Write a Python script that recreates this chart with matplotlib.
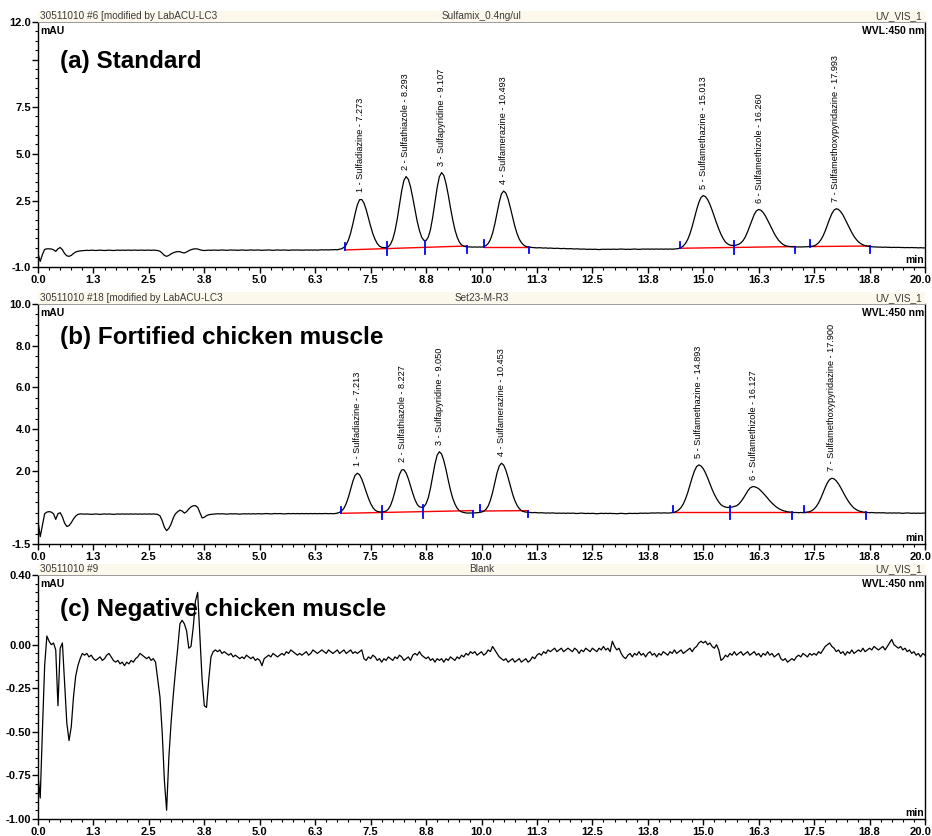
import numpy as np
import matplotlib
matplotlib.use("Agg")
import matplotlib.pyplot as plt
import matplotlib.transforms as mtransforms
from matplotlib.patches import Rectangle
from matplotlib.ticker import MultipleLocator

plt.rcParams['font.family'] = ['Liberation Sans', 'DejaVu Sans']

STEP = 0.05  # trace sampling interval, min

x_ticks = [0.0, 1.25, 2.5, 3.75, 5.0, 6.25, 7.5, 8.75, 10.0, 11.25, 12.5,
           13.75, 15.0, 16.25, 17.5, 18.75, 20.0]
x_tick_labels = ['0.0', '1.3', '2.5', '3.8', '5.0', '6.3', '7.5', '8.8', '10.0',
                 '11.3', '12.5', '13.8', '15.0', '16.3', '17.5', '18.8', '20.0']

compounds = ['Sulfadiazine', 'Sulfathiazole', 'Sulfapyridine', 'Sulfamerazine',
             'Sulfamethazine', 'Sulfamethizole', 'Sulfamethoxypyridazine']

# ---------------- (a) Standard ----------------
a_header = ['30511010 #6 [modified by LabACU-LC3', 'Sulfamix_0.4ng/ul', 'UV_VIS_1']
a_rt = [7.273, 8.293, 9.107, 10.493, 15.013, 16.260, 17.993]
a_top = [2.60, 3.79, 4.00, 3.02, 2.78, 2.04, 2.08]
a_yticks = [12.0, 10.0, 7.5, 5.0, 2.5, -1.0]
a_ytick_labels = ['12.0', '', '7.5', '5.0', '2.5', '-1.0']
a_trace = [
    -0.30, -0.72, -0.35, -0.08, -0.05, -0.05, -0.06, -0.10, -0.19, -0.05, 0.02, -0.10, -0.30, -0.42, -0.45, -0.40, -0.30, -0.22, -0.18, -0.16,  # 0
    -0.15, -0.14, -0.13, -0.14, -0.12, -0.13, -0.14, -0.13, -0.12, -0.13, -0.14, -0.13, -0.12, -0.13, -0.14, -0.13, -0.12, -0.13, -0.12, -0.13,  # 1
    -0.12, -0.12, -0.13, -0.12, -0.12, -0.13, -0.12, -0.12, -0.13, -0.12, -0.12, -0.13, -0.12, -0.13, -0.14, -0.18, -0.28, -0.40, -0.45, -0.40,  # 2
    -0.32, -0.26, -0.22, -0.20, -0.20, -0.25, -0.27, -0.22, -0.15, -0.10, -0.06, -0.05, -0.06, -0.10, -0.13, -0.14, -0.13, -0.12, -0.13, -0.12,  # 3
    -0.12, -0.13, -0.12, -0.11, -0.12, -0.13, -0.12, -0.11, -0.12, -0.12, -0.13, -0.12, -0.11, -0.12, -0.13, -0.12, -0.11, -0.12, -0.12, -0.11,  # 4
    -0.12, -0.13, -0.12, -0.12, -0.11, -0.12, -0.13, -0.12, -0.11, -0.12, -0.12, -0.11, -0.12, -0.13, -0.12, -0.11, -0.12, -0.11, -0.12, -0.12,  # 5
    -0.12, -0.11, -0.12, -0.11, -0.12, -0.11, -0.12, -0.11, -0.10, -0.11, -0.10, -0.11, -0.10, -0.10, -0.09, -0.10, -0.07, -0.04, 0.03, 0.17,  # 6
    0.42, 0.79, 1.28, 1.81, 2.28, 2.56, 2.57, 2.38, 2.03, 1.59, 1.15, 0.75, 0.45, 0.23, 0.09, 0.03, 0.01, 0.02, 0.06, 0.20,  # 7
    0.47, 0.91, 1.53, 2.28, 3.03, 3.58, 3.79, 3.64, 3.24, 2.66, 2.02, 1.41, 0.93, 0.57, 0.40, 0.39, 0.57, 0.98, 1.63, 2.42,  # 8
    3.20, 3.78, 4.00, 3.85, 3.42, 2.82, 2.14, 1.51, 0.97, 0.58, 0.31, 0.16, 0.09, 0.06, 0.05, 0.05, 0.04, 0.05, 0.04, 0.05,  # 9
    0.04, 0.06, 0.12, 0.23, 0.44, 0.78, 1.26, 1.85, 2.43, 2.87, 3.02, 2.91, 2.59, 2.14, 1.64, 1.16, 0.77, 0.47, 0.28, 0.15,  # 10
    0.08, 0.05, 0.03, 0.02, 0.01, 0.00, 0.01, 0.00, -0.01, 0.00, -0.02, -0.01, -0.02, -0.03, -0.02, -0.03, -0.04, -0.03, -0.04, -0.05,  # 11
    -0.04, -0.05, -0.06, -0.05, -0.06, -0.07, -0.06, -0.07, -0.08, -0.07, -0.08, -0.07, -0.08, -0.09, -0.08, -0.07, -0.08, -0.07, -0.08, -0.07,  # 12
    -0.07, -0.08, -0.07, -0.06, -0.07, -0.08, -0.07, -0.08, -0.07, -0.06, -0.07, -0.08, -0.07, -0.06, -0.07, -0.06, -0.07, -0.06, -0.07, -0.06,  # 13
    -0.07, -0.06, -0.07, -0.06, -0.07, -0.06, -0.07, -0.06, -0.05, -0.03, 0.02, 0.10, 0.24, 0.45, 0.75, 1.13, 1.57, 2.02, 2.41, 2.68,  # 14
    2.78, 2.72, 2.56, 2.31, 2.00, 1.66, 1.32, 1.00, 0.72, 0.49, 0.31, 0.21, 0.15, 0.13, 0.13, 0.15, 0.19, 0.27, 0.39, 0.59,  # 15
    0.86, 1.17, 1.49, 1.78, 1.97, 2.04, 2.00, 1.88, 1.70, 1.48, 1.24, 0.99, 0.77, 0.57, 0.40, 0.28, 0.18, 0.12, 0.09, 0.07,  # 16
    0.06, 0.05, 0.05, 0.05, 0.05, 0.05, 0.06, 0.06, 0.08, 0.08, 0.11, 0.17, 0.27, 0.42, 0.63, 0.90, 1.22, 1.54, 1.82, 2.01,  # 17
    2.08, 2.04, 1.92, 1.75, 1.52, 1.28, 1.04, 0.81, 0.61, 0.45, 0.32, 0.23, 0.16, 0.12, 0.09, 0.07, 0.06, 0.05, 0.05, 0.04,  # 18
    0.04, 0.03, 0.04, 0.03, 0.03, 0.02, 0.03, 0.02, 0.03, 0.02, 0.02, 0.01, 0.02, 0.01, 0.02, 0.01, 0.01, 0.00, 0.01, 0.00,  # 19
    0.00,
]
a_seg_t = [[6.92, 9.67], [10.06, 11.07], [14.48, 17.07], [17.41, 18.76]]
a_seg_y = [[-0.11, 0.10], [0.07, 0.07], [-0.02, 0.07], [0.07, 0.10]]
a_valley_t = [7.87, 8.73, 15.69]
a_valley_y = [-0.04, 0.03, 0.02]

# ---------------- (b) Fortified chicken muscle ----------------
b_header = ['30511010 #18 [modified by LabACU-LC3', 'Set23-M-R3', 'UV_VIS_1']
b_rt = [7.213, 8.227, 9.050, 10.453, 14.893, 16.127, 17.900]
b_top = [1.89, 2.08, 2.92, 2.37, 2.29, 1.25, 1.65]
b_yticks = [10.0, 8.0, 6.0, 4.0, 2.0, -1.5]
b_ytick_labels = ['10.0', '8.0', '6.0', '4.0', '2.0', '-1.5']
b_trace = [
    -0.40, -1.15, -0.60, -0.05, 0.03, 0.05, 0.03, -0.05, -0.32, -0.05, 0.00, -0.20, -0.50, -0.66, -0.62, -0.48, -0.30, -0.16, -0.08, -0.06,  # 0
    -0.06, -0.07, -0.06, -0.07, -0.08, -0.07, -0.06, -0.07, -0.08, -0.07, -0.06, -0.07, -0.06, -0.07, -0.08, -0.07, -0.06, -0.07, -0.06, -0.07,  # 1
    -0.06, -0.07, -0.06, -0.07, -0.06, -0.07, -0.06, -0.07, -0.06, -0.07, -0.06, -0.07, -0.06, -0.07, -0.08, -0.15, -0.38, -0.70, -0.86, -0.75,  # 2
    -0.55, -0.25, -0.05, 0.05, 0.12, 0.08, -0.02, 0.05, 0.18, 0.28, 0.33, 0.34, 0.26, 0.00, -0.25, -0.22, -0.14, -0.10, -0.08, -0.07,  # 3
    -0.06, -0.05, -0.06, -0.05, -0.06, -0.07, -0.06, -0.05, -0.06, -0.05, -0.06, -0.07, -0.06, -0.05, -0.06, -0.05, -0.06, -0.05, -0.06, -0.05,  # 4
    -0.05, -0.06, -0.05, -0.04, -0.05, -0.06, -0.05, -0.04, -0.05, -0.04, -0.05, -0.06, -0.05, -0.04, -0.05, -0.04, -0.05, -0.04, -0.05, -0.04,  # 5
    -0.05, -0.04, -0.05, -0.04, -0.05, -0.04, -0.05, -0.04, -0.05, -0.04, -0.04, -0.05, -0.04, -0.05, -0.04, -0.02, 0.02, 0.09, 0.22, 0.44,  # 6
    0.75, 1.13, 1.51, 1.79, 1.89, 1.82, 1.61, 1.32, 1.00, 0.70, 0.44, 0.25, 0.12, 0.06, 0.04, 0.03, 0.05, 0.08, 0.17, 0.35,  # 7
    0.65, 1.03, 1.46, 1.83, 2.05, 2.06, 1.90, 1.63, 1.28, 0.93, 0.62, 0.40, 0.28, 0.26, 0.28, 0.43, 0.71, 1.18, 1.76, 2.33,  # 8
    2.76, 2.92, 2.81, 2.50, 2.06, 1.56, 1.09, 0.70, 0.42, 0.22, 0.10, 0.04, 0.01, -0.01, -0.02, -0.01, -0.02, -0.01, 0.00, 0.01,  # 9
    0.03, 0.07, 0.16, 0.32, 0.59, 0.97, 1.44, 1.90, 2.24, 2.37, 2.28, 2.03, 1.68, 1.28, 0.90, 0.59, 0.36, 0.20, 0.10, 0.05,  # 10
    0.03, 0.02, 0.01, 0.00, 0.01, 0.00, -0.01, 0.00, -0.01, -0.02, -0.01, -0.02, -0.01, -0.02, -0.03, -0.02, -0.03, -0.02, -0.03, -0.02,  # 11
    -0.03, -0.02, -0.03, -0.04, -0.03, -0.02, -0.03, -0.04, -0.03, -0.04, -0.03, -0.04, -0.05, -0.04, -0.03, -0.04, -0.03, -0.04, -0.03, -0.04,  # 12
    -0.04, -0.05, -0.04, -0.03, -0.04, -0.05, -0.04, -0.03, -0.04, -0.03, -0.04, -0.03, -0.02, -0.03, -0.02, -0.03, -0.02, -0.01, -0.02, -0.01,  # 13
    -0.01, -0.02, -0.01, -0.01, -0.02, -0.01, 0.00, 0.02, 0.07, 0.14, 0.25, 0.42, 0.66, 0.96, 1.32, 1.68, 1.99, 2.21, 2.29, 2.24,  # 14
    2.11, 1.91, 1.66, 1.39, 1.12, 0.88, 0.68, 0.51, 0.38, 0.31, 0.27, 0.25, 0.26, 0.27, 0.30, 0.33, 0.41, 0.53, 0.68, 0.86,  # 15
    1.03, 1.17, 1.24, 1.25, 1.21, 1.15, 1.05, 0.94, 0.82, 0.70, 0.57, 0.46, 0.36, 0.27, 0.20, 0.14, 0.10, 0.07, 0.04, 0.03,  # 16
    0.02, 0.01, 0.01, 0.00, 0.01, 0.00, 0.01, 0.03, 0.05, 0.10, 0.18, 0.30, 0.47, 0.69, 0.95, 1.21, 1.44, 1.59, 1.65, 1.62,  # 17
    1.52, 1.38, 1.20, 1.00, 0.80, 0.62, 0.46, 0.33, 0.22, 0.15, 0.09, 0.06, 0.03, 0.02, 0.01, 0.00, 0.01, 0.00, -0.01, 0.00,  # 18
    -0.01, 0.00, -0.01, -0.02, -0.01, -0.02, -0.01, -0.02, -0.01, -0.02, -0.03, -0.02, -0.01, -0.02, -0.03, -0.02, -0.03, -0.02, -0.03, -0.02,  # 19
    -0.02,
]
b_seg_t = [[6.83, 9.81], [9.97, 11.05], [14.32, 17.00], [17.27, 18.67]]
b_seg_y = [[-0.03, 0.10], [0.08, 0.10], [0.02, 0.02], [0.03, 0.03]]
b_valley_t = [7.76, 8.68, 15.60]
b_valley_y = [0.01, 0.05, 0.02]

# ---------------- (c) Negative chicken muscle ----------------
c_header = ['30511010 #9', 'Blank', 'UV_VIS_1']
c_yticks = [0.40, 0.00, -0.25, -0.50, -0.75, -1.00]
c_ytick_labels = ['0.40', '0.00', '-0.25', '-0.50', '-0.75', '-1.00']
c_trace = [
    -0.75, -0.88, -0.49, -0.12, 0.05, 0.02, 0.00, 0.01, -0.03, -0.35, -0.02, 0.01, -0.22, -0.45, -0.55, -0.47, -0.30, -0.18, -0.12, -0.08,  # 0
    -0.05, -0.06, -0.05, -0.07, -0.06, -0.08, -0.09, -0.08, -0.07, -0.09, -0.08, -0.06, -0.05, -0.07, -0.09, -0.10, -0.09, -0.11, -0.10, -0.12,  # 1
    -0.10, -0.11, -0.09, -0.10, -0.08, -0.07, -0.05, -0.06, -0.07, -0.08, -0.07, -0.09, -0.08, -0.10, -0.20, -0.30, -0.50, -0.78, -0.95, -0.65,  # 2
    -0.45, -0.29, -0.15, -0.02, 0.12, 0.14, 0.12, 0.08, -0.02, -0.01, 0.10, 0.25, 0.30, 0.05, -0.20, -0.35, -0.36, -0.20, -0.07, -0.04,  # 3
    -0.03, -0.04, -0.03, -0.05, -0.04, -0.05, -0.06, -0.05, -0.07, -0.06, -0.07, -0.08, -0.07, -0.08, -0.06, -0.07, -0.08, -0.07, -0.09, -0.08,  # 4
    -0.09, -0.12, -0.08, -0.07, -0.06, -0.07, -0.05, -0.06, -0.07, -0.06, -0.05, -0.06, -0.04, -0.05, -0.03, -0.04, -0.05, -0.06, -0.05, -0.06,  # 5
    -0.05, -0.04, -0.06, -0.05, -0.03, -0.04, -0.05, -0.04, -0.03, -0.04, -0.05, -0.03, -0.04, -0.05, -0.04, -0.03, -0.05, -0.04, -0.03, -0.05,  # 6
    -0.04, -0.03, -0.05, -0.04, -0.05, -0.04, -0.03, -0.08, -0.09, -0.07, -0.08, -0.06, -0.07, -0.09, -0.08, -0.10, -0.08, -0.09, -0.07, -0.08,  # 7
    -0.09, -0.07, -0.08, -0.06, -0.07, -0.09, -0.08, -0.07, -0.09, -0.06, -0.05, -0.06, -0.04, -0.06, -0.07, -0.08, -0.07, -0.09, -0.08, -0.10,  # 8
    -0.08, -0.09, -0.08, -0.10, -0.08, -0.09, -0.07, -0.08, -0.09, -0.07, -0.08, -0.06, -0.07, -0.05, -0.06, -0.04, -0.05, -0.04, -0.06, -0.05,  # 9
    -0.04, -0.06, -0.05, -0.03, -0.04, -0.01, -0.03, -0.05, -0.07, -0.08, -0.09, -0.08, -0.10, -0.09, -0.08, -0.10, -0.09, -0.08, -0.10, -0.09,  # 10
    -0.08, -0.10, -0.09, -0.07, -0.08, -0.06, -0.05, -0.06, -0.04, -0.05, -0.03, -0.04, -0.03, -0.02, -0.04, -0.03, -0.02, -0.04, -0.03, -0.02,  # 11
    -0.03, -0.04, -0.02, -0.03, -0.05, -0.03, -0.04, -0.02, -0.03, -0.04, -0.02, -0.03, -0.04, -0.02, -0.03, -0.01, -0.03, -0.02, -0.04, 0.02,  # 12
    -0.01, -0.03, -0.02, -0.05, -0.07, -0.08, -0.06, -0.05, -0.07, -0.05, -0.06, -0.04, -0.06, -0.05, -0.07, -0.05, -0.04, -0.06, -0.05, -0.07,  # 13
    -0.05, -0.06, -0.04, -0.05, -0.06, -0.04, -0.05, -0.03, -0.05, -0.04, -0.03, -0.05, -0.04, -0.03, -0.02, -0.04, -0.02, -0.01, 0.01, 0.02,  # 14
    0.01, 0.02, 0.00, 0.01, -0.01, -0.02, 0.00, -0.03, -0.09, -0.08, -0.06, -0.07, -0.05, -0.06, -0.04, -0.06, -0.05, -0.04, -0.06, -0.05,  # 15
    -0.04, -0.06, -0.05, -0.04, -0.06, -0.05, -0.07, -0.05, -0.06, -0.04, -0.06, -0.05, -0.07, -0.06, -0.05, -0.08, -0.09, -0.08, -0.10, -0.09,  # 16
    -0.08, -0.09, -0.07, -0.06, -0.07, -0.05, -0.06, -0.07, -0.05, -0.06, -0.05, -0.06, -0.04, -0.05, -0.03, -0.01, 0.00, 0.01, -0.01, -0.02,  # 17
    -0.04, -0.03, -0.05, -0.04, -0.06, -0.04, -0.05, -0.03, -0.05, -0.04, -0.03, -0.04, -0.02, -0.04, -0.03, -0.02, -0.03, -0.01, -0.02, -0.03,  # 18
    -0.02, -0.01, -0.03, -0.01, 0.01, 0.03, 0.00, -0.01, -0.02, -0.01, -0.03, -0.02, -0.04, -0.03, -0.05, -0.04, -0.06, -0.05, -0.07, -0.05,  # 19
    -0.06,
]

W_FIG, H_FIG = 932, 836
fig = plt.figure(figsize=(W_FIG / 100, H_FIG / 100), dpi=100)
fig.patch.set_facecolor('white')

AX_L = 38 / W_FIG
AX_W = 887 / W_FIG
BAND_H = 11.5 / H_FIG


def make_axes(top_px, bottom_px):
    return fig.add_axes([AX_L, 1 - bottom_px / H_FIG, AX_W, (bottom_px - top_px) / H_FIG])


def draw_panel(ax, title, title_y, header, trace, ylim, yticks, ylabels, yminor,
               rt=None, top=None, seg_t=None, seg_y=None, valley_t=None, valley_y=None):
    t = np.arange(len(trace)) * STEP
    ax.plot(t, trace, color='black', lw=0.9, zorder=3)
    ax.set_xlim(0, 20)
    ax.set_ylim(*ylim)

    # integration baselines and delimiters
    if seg_t is not None:
        h = 0.027 * (ylim[1] - ylim[0])
        for (t0, t1), (y0, y1) in zip(seg_t, seg_y):
            ax.plot([t0, t1], [y0, y1], color='red', lw=1.0, zorder=2)
            ax.plot([t0, t0], [y0, y0 + h], color='blue', lw=1.3, zorder=4)
            ax.plot([t1, t1], [y1 - h, y1], color='blue', lw=1.3, zorder=4)
        for tv, yv in zip(valley_t, valley_y):
            ax.plot([tv, tv], [yv - h, yv + h], color='blue', lw=1.3, zorder=4)

    # peak labels
    if rt is not None:
        for i, (r, hgt) in enumerate(zip(rt, top)):
            ax.annotate(f'{i + 1} - {compounds[i]} - {r:.3f}', xy=(r, hgt),
                        xytext=(0, 5), textcoords='offset points', rotation=90,
                        ha='center', va='bottom', fontsize=6.6, color='black')

    # axes styling
    for side in ['left', 'bottom', 'right']:
        ax.spines[side].set_linewidth(1.0)
        ax.spines[side].set_color('black')
    ax.spines['top'].set_color('#9a9a9a')
    ax.spines['top'].set_linewidth(0.7)

    ax.set_xticks(x_ticks)
    ax.set_xticklabels(x_tick_labels, fontweight='bold')
    ax.xaxis.set_minor_locator(MultipleLocator(0.25))
    ax.set_yticks(yticks)
    ax.set_yticklabels(ylabels, fontweight='bold')
    ax.yaxis.set_minor_locator(MultipleLocator(yminor))
    ax.tick_params(axis='both', which='major', direction='out', length=4, width=1.0,
                   labelsize=8, colors='black')
    ax.tick_params(axis='x', which='major', pad=1.8)
    ax.tick_params(axis='y', which='major', pad=1)
    ax.tick_params(axis='both', which='minor', direction='out', length=2.5, width=0.8)
    # keep the last x label inside the figure
    last = ax.get_xticklabels()[-1]
    last.set_horizontalalignment('right')
    last.set_transform(last.get_transform() +
                       mtransforms.ScaledTranslation(5 / 72, 0, fig.dpi_scale_trans))

    ax.text(0.003, 0.982, 'mAU', transform=ax.transAxes, ha='left', va='top',
            fontsize=7.5, fontweight='bold')
    ax.text(0.999, 0.982, 'WVL:450 nm', transform=ax.transAxes, ha='right', va='top',
            fontsize=7.5, fontweight='bold')
    ax.text(0.999, 0.005, 'min', transform=ax.transAxes, ha='right', va='bottom',
            fontsize=7.5, fontweight='bold')
    ax.text(0.0248, title_y, title, transform=ax.transAxes, ha='left', va='baseline',
            fontsize=17.5, fontweight='bold')

    # header band
    pos = ax.get_position()
    fig.patches.append(Rectangle((pos.x0, pos.y1), pos.width, BAND_H,
                                 transform=fig.transFigure, facecolor='#fcf8ec',
                                 edgecolor='none', zorder=0))
    yb = pos.y1 + BAND_H / 2
    fig.text(pos.x0 + 0.002, yb, header[0], ha='left', va='center', fontsize=7.2, color='#3a3a3a')
    fig.text(pos.x0 + pos.width / 2, yb, header[1], ha='center', va='center', fontsize=7.2, color='#3a3a3a')
    fig.text(pos.x1 - 0.003, yb, header[2], ha='right', va='center', fontsize=7.2, color='#3a3a3a')


ax_a = make_axes(22, 266.7)
ax_b = make_axes(304, 544)
ax_c = make_axes(575, 819)

draw_panel(ax_a, '(a) Standard', 0.811, a_header, a_trace, (-1.0, 12.0),
           a_yticks, a_ytick_labels, 0.5, a_rt, a_top, a_seg_t, a_seg_y, a_valley_t, a_valley_y)
draw_panel(ax_b, '(b) Fortified chicken muscle', 0.835, b_header, b_trace, (-1.5, 10.0),
           b_yticks, b_ytick_labels, 0.5, b_rt, b_top, b_seg_t, b_seg_y, b_valley_t, b_valley_y)
draw_panel(ax_c, '(c) Negative chicken muscle', 0.830, c_header, c_trace, (-1.0, 0.40),
           c_yticks, c_ytick_labels, 0.05)

fig.savefig('out.png', dpi=100, facecolor='white')
